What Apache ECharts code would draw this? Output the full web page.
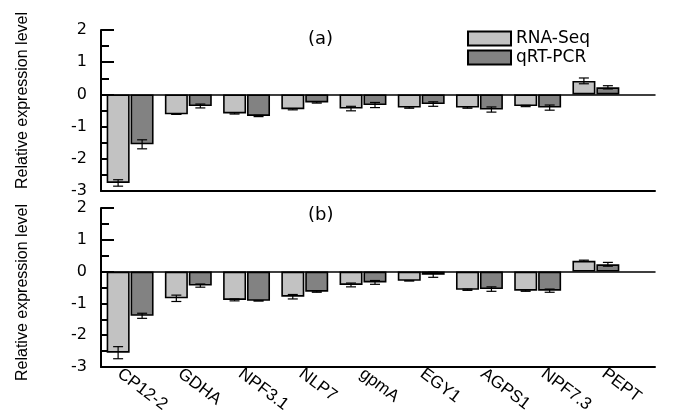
<!DOCTYPE html>
<html><head><meta charset="utf-8">
<script src="https://cdn.jsdelivr.net/npm/echarts@6/dist/echarts.min.js"></script>
<style>html,body{margin:0;padding:0;background:#fff}#c{width:675px;height:417px}</style>
</head><body><div id="c"></div>
<script>
const categories = ['CP12-2','GDHA','NPF3.1','NLP7','gpmA','EGY1','AGPS1','NPF7.3','PEPT'];
const seriesNames = ['RNA-Seq','qRT-PCR'];
const panelLabels = ['(a)','(b)'];
const yTickLabels = [-3,-2,-1,0,1,2];
// panel (a)
const rnaA     = [-2.75,-0.62,-0.59,-0.46,-0.44,-0.41,-0.41,-0.36,0.42];
const rnaAErr  = [0.10,0.00,0.02,0.02,0.07,0.02,0.02,0.02,0.09];
const qpcrA    = [-1.55,-0.36,-0.67,-0.25,-0.33,-0.30,-0.47,-0.41,0.22];
const qpcrAErr = [0.14,0.06,0.02,0.02,0.08,0.07,0.08,0.08,0.05];
// panel (b)
const rnaB     = [-2.55,-0.84,-0.89,-0.79,-0.42,-0.29,-0.57,-0.60,0.34];
const rnaBErr  = [0.19,0.10,0.03,0.07,0.06,0.00,0.02,0.02,0.02];
const qpcrB    = [-1.39,-0.44,-0.92,-0.63,-0.34,-0.10,-0.55,-0.60,0.23];
const qpcrBErr = [0.08,0.05,0.00,0.02,0.06,0.08,0.07,0.05,0.06];

const FONT = 'Liberation Sans, Arial, sans-serif';
const WIDE = 'DejaVu Sans, sans-serif';
const YMIN = yTickLabels[0], YMAX = yTickLabels[yTickLabels.length-1];
const colors = ['#c2c2c2','#828282'];
const BAR_W = 23;

const chart = echarts.init(document.getElementById('c'), null, {renderer:'canvas'});

const panels = [
  {top:30, height:161, rna:rnaA, rnaErr:rnaAErr, q:qpcrA, qErr:qpcrAErr, labels:false, namePad:[0,0,0,20], titleTop:30},
  {top:208, height:159, rna:rnaB, rnaErr:rnaBErr, q:qpcrB, qErr:qpcrBErr, labels:true, namePad:[0,10,0,0], titleTop:206}
];

const grid=[], xAxis=[], yAxis=[], series=[], title=[];
panels.forEach((p, k) => {
  const gBar = grid.length, gFrame = gBar+1;
  grid.push({left:101, top:p.top, width:524, height:p.height});
  grid.push({left:101, top:p.top, width:554, height:p.height});
  const xBar = xAxis.length;
  xAxis.push({type:'category', gridIndex:gBar, data:categories, boundaryGap:true,
    axisLine:{show:false}, axisTick:{show:false}, splitLine:{show:false}, axisLabel:{show:false}});
  xAxis.push({type:'value', gridIndex:gFrame, min:0, max:1, position:'bottom',
    axisLine:{show:true, onZero:false, lineStyle:{color:'#000', width:2}},
    axisTick:{show:false}, axisLabel:{show:false}, splitLine:{show:false}});
  xAxis.push({type:'value', gridIndex:gFrame, min:0, max:1,
    axisLine:{show:true, onZero:true, lineStyle:{color:'#000', width:1.5}},
    axisTick:{show:false}, axisLabel:{show:false}, splitLine:{show:false}});
  const yBar = yAxis.length;
  yAxis.push({type:'value', gridIndex:gBar, min:YMIN, max:YMAX, show:false});
  yAxis.push({type:'value', gridIndex:gFrame, min:YMIN, max:YMAX, interval:1,
    name:'Relative expression level', nameLocation:'middle', nameGap:70,
    nameTextStyle:{fontSize:16, color:'#000', fontFamily:FONT, padding:p.namePad},
    axisLine:{show:true, onZero:false, lineStyle:{color:'#000', width:2}},
    axisTick:{show:true, inside:true, length:13, lineStyle:{color:'#000', width:2}},
    minorTick:{show:true, splitNumber:2, length:8, lineStyle:{color:'#000', width:2}},
    axisLabel:{fontSize:16, color:'#000', fontFamily:WIDE, margin:14},
    splitLine:{show:false}});
  if (p.labels) {
    const gLab = grid.length;
    grid.push({left:89, top:p.top, width:545, height:p.height});
    xAxis.push({type:'category', gridIndex:gLab, data:categories, boundaryGap:true,
      axisLine:{show:false}, axisTick:{show:false}, splitLine:{show:false},
      axisLabel:{show:true, rotate:-37, margin:5, fontSize:17, color:'#000', fontFamily:FONT, interval:0}});
    yAxis.push({type:'value', gridIndex:gLab, min:YMIN, max:YMAX, show:false});
  }
  [[p.rna, p.rnaErr], [p.q, p.qErr]].forEach(([vals, errs], s) => {
    series.push({type:'bar', name:seriesNames[s], xAxisIndex:xBar, yAxisIndex:yBar,
      data:vals, barWidth:BAR_W, barGap:'4%',
      itemStyle:{color:colors[s], borderColor:'#000', borderWidth:1.6}, z:2});
  });
  [[p.rna, p.rnaErr], [p.q, p.qErr]].forEach(([vals, errs], s) => {
    const off = (s===0 ? -1 : 1) * (BAR_W/2 + 0.5);
    series.push({type:'custom', xAxisIndex:xBar, yAxisIndex:yBar, z:3,
      data: vals.map((v,i)=>[i, v, errs[i]]),
      encode:{x:0, y:1},
      renderItem:(params, api) => {
        const i = api.value(0), v = api.value(1), e = api.value(2);
        const hi = api.coord([i, v+e]), lo = api.coord([i, v-e]);
        const x = hi[0] + off, cap = 5;
        const st = {stroke:'#000', lineWidth:1.2};
        return {type:'group', children:[
          {type:'line', shape:{x1:x, y1:hi[1], x2:x, y2:lo[1]}, style:st},
          {type:'line', shape:{x1:x-cap, y1:hi[1], x2:x+cap, y2:hi[1]}, style:st},
          {type:'line', shape:{x1:x-cap, y1:lo[1], x2:x+cap, y2:lo[1]}, style:st}
        ]};
      }});
  });
  title.push({text:panelLabels[k], left:308, top:p.titleTop, padding:0,
    textStyle:{fontSize:18, fontWeight:'normal', color:'#000', fontFamily:WIDE}});
});

chart.setOption({
  animation:false,
  backgroundColor:'#fff',
  title,
  legend:{data:seriesNames, orient:'vertical', left:467, top:30, padding:0,
    itemWidth:43, itemHeight:14, itemGap:2, icon:'rect',
    textStyle:{fontSize:17, color:'#000', fontFamily:WIDE}},
  grid, xAxis, yAxis, series
});
</script></body></html>
